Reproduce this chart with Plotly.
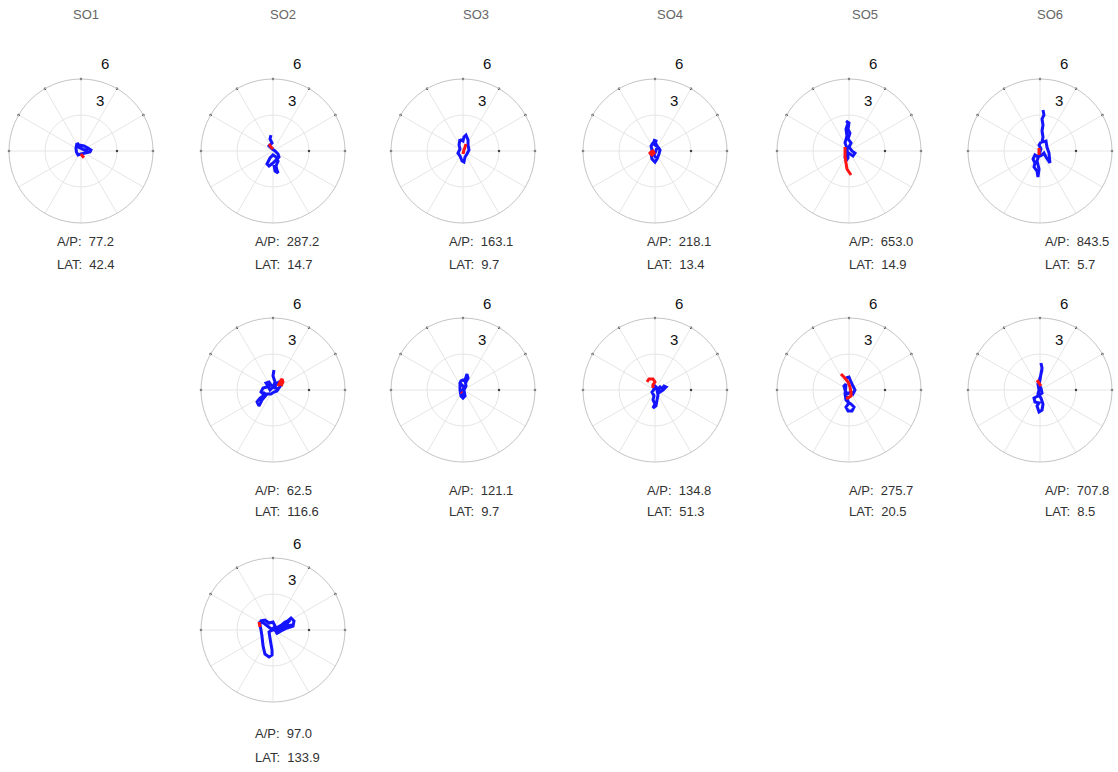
import numpy as np
import plotly.graph_objects as go

W, H = 1118, 772

# ---- data (lateral, A/P) sway trajectories in axis units ----
subjects = ["SO1", "SO2", "SO3", "SO4", "SO5", "SO6"]

traj = {
    (0, 0): dict(
        blue=[(-0.33, 0.67), (-0.42, 0.25), (-0.38, -0.08), (-0.25, -0.33), (0, -0.25), (0.33, -0.17),
              (0.75, -0.08), (0.83, 0.08), (0.58, 0.25), (0.25, 0.42), (-0.17, 0.5), (-0.33, 0.67),
              (-0.17, 0.3), (0.25, 0.1), (0.6, 0.05)],
        red=[(0, -0.25), (0.1, -0.4), (0.25, -0.55)],
        ap="77.2", lat="42.4"),
    (0, 1): dict(
        blue=[(-0.17, 1.33), (-0.25, 1.0), (-0.08, 0.67), (-0.33, 0.42), (-0.08, 0.17), (0.17, 0), (0.42, -0.25),
              (0.5, -0.5), (0.25, -0.75), (0, -1.0), (-0.33, -1.25), (-0.5, -1.08), (-0.25, -0.58), (0, -0.33),
              (0.25, -0.5), (0.42, -0.83), (0.25, -1.25), (0.33, -1.58), (0.42, -1.83), (0.17, -1.67), (0.08, -1.17)],
        red=[(-0.33, 0.58), (-0.17, 0.33), (0, 0.17)],
        ap="287.2", lat="14.7"),
    (0, 2): dict(
        blue=[(-0.25, 1.0), (-0.33, 0.5), (-0.25, 0.17), (-0.42, -0.17), (-0.25, -0.42), (-0.08, -0.83),
              (0.08, -0.92), (0.17, -0.5), (0.33, -0.25), (0.5, 0.08), (0.42, 0.5), (0.42, 0.92), (0.25, 1.33),
              (0.08, 1.17), (0, 0.83), (-0.17, 0.92), (-0.25, 1.0)],
        red=[(0, -0.25), (0.08, 0.08), (0.17, 0.33), (0.25, 0.58)],
        ap="163.1", lat="9.7"),
    (0, 3): dict(
        blue=[(-0.17, 0.92), (0.08, 0.83), (0, 0.5), (0.25, 0.33), (0.42, 0.08), (0.33, -0.25), (0.17, -0.67),
              (0, -0.92), (-0.25, -0.67), (-0.33, -0.25), (-0.25, 0.08), (-0.33, 0.42), (-0.17, 0.67), (0, 0.75),
              (0.17, 0.42), (0.08, 0), (-0.08, -0.33), (0.08, -0.58)],
        red=[(-0.5, -0.25), (-0.33, -0.08), (-0.17, 0), (-0.08, -0.17), (-0.25, -0.33), (-0.42, -0.17)],
        ap="218.1", lat="13.4"),
    (0, 4): dict(
        blue=[(-0.25, 2.5), (0, 2.33), (-0.08, 1.83), (0.08, 1.5), (-0.08, 1.0), (0.17, 0.67), (0, 0.33),
              (0.25, 0), (0.5, -0.17), (0.33, -0.42), (0.08, -0.25), (-0.17, -0.08), (-0.33, -0.5),
              (-0.25, -0.83), (-0.08, -0.58), (-0.17, 0.25), (-0.33, 0.67), (-0.17, 1.25), (-0.25, 1.83),
              (-0.08, 2.33)],
        red=[(-0.33, 0.33), (-0.33, -0.42), (-0.25, -1.0), (-0.17, -1.5), (0, -1.75), (0.17, -2.0)],
        ap="653.0", lat="14.9"),
    (0, 5): dict(
        blue=[(0.25, 3.42), (0.33, 3.0), (0.17, 2.67), (0.25, 2.17), (0.17, 1.67), (0.25, 1.17), (0.17, 0.75),
              (0.5, 0.83), (0.58, 0.33), (0.75, -0.17), (0.83, -1.0), (0.5, -0.5), (0.33, -0.17), (0.17, -0.33),
              (-0.17, -0.5), (-0.42, -0.33), (-0.58, -0.67), (-0.42, -1.0), (-0.5, -1.33), (-0.25, -1.67),
              (-0.17, -2.17), (-0.08, -1.5), (-0.25, -0.83), (-0.08, -0.33), (0.08, 0.17), (-0.08, 0.5),
              (0.08, 0.75)],
        red=[(-0.08, 0.25), (-0.08, -0.33)],
        ap="843.5", lat="5.7"),
    (1, 1): dict(
        blue=[(0.08, 1.67), (0, 1.17), (0.17, 0.67), (0, 0.25), (-0.25, 0), (-0.42, 0.33), (-0.58, 0.58),
              (-0.33, 0.67), (-0.17, 0.42), (-0.5, 0.25), (-0.83, 0.17), (-1.0, -0.17), (-0.83, -0.33),
              (-0.67, -0.17), (-0.83, -0.5), (-1.08, -0.67), (-1.33, -1.0), (-1.17, -1.33), (-0.92, -0.83),
              (-0.5, -0.33), (-0.17, -0.33), (0.08, -0.17), (0.33, -0.08), (0.5, 0.17), (0.67, 0.42),
              (0.5, 0.67), (0.25, 0.5), (0.17, 0.17), (0.42, 0.08)],
        red=[(0.42, 0.33), (0.58, 0.67), (0.75, 0.92), (0.83, 0.67), (0.67, 0.33)],
        ap="62.5", lat="116.6"),
    (1, 2): dict(
        blue=[(-0.25, 0.58), (-0.25, 0), (-0.17, -0.5), (0, -0.67), (0.17, -0.5), (0.08, 0), (0.25, 0.33),
              (0.17, 0.83), (0.33, 1.33), (0.42, 1.0), (0.25, 0.67), (0, 0.83), (-0.17, 0.75), (-0.25, 0.58),
              (-0.17, 0.5), (0.08, 0.25), (-0.08, -0.25), (0.08, -0.42)],
        red=[(-0.17, -0.17), (-0.08, -0.25)],
        ap="121.1", lat="9.7"),
    (1, 3): dict(
        blue=[(-0.17, 0.42), (0, 0.17), (-0.25, -0.17), (-0.08, -0.5), (-0.17, -0.83), (0, -1.17), (-0.17, -1.5),
              (0.08, -1.33), (0.17, -0.83), (0.25, -0.42), (0.17, 0), (0.42, 0.25), (0.58, 0.08), (0.75, 0.33),
              (0.92, 0.25), (0.67, 0), (0.42, -0.17), (0.25, 0.08), (0, 0.33), (-0.25, 0.25)],
        red=[(-0.67, 0.67), (-0.5, 0.92), (-0.17, 0.92), (0, 0.67), (-0.17, 0.42), (-0.17, 0.17)],
        ap="134.8", lat="51.3"),
    (1, 4): dict(
        blue=[(-0.25, 1.0), (0, 1.08), (0.17, 0.67), (0.33, 0.33), (0.5, 0), (0.33, -0.33), (0.17, -0.17),
              (-0.17, -0.33), (-0.33, 0), (-0.42, 0.33), (-0.25, 0.5), (-0.33, -0.33), (-0.25, -0.83), (0, -1.08),
              (-0.25, -1.42), (-0.08, -1.75), (0.25, -1.75), (0.42, -1.42), (0.17, -1.17), (-0.08, -1.0),
              (-0.17, -0.5)],
        red=[(-0.67, 1.33), (-0.42, 1.08), (-0.08, 0.67), (0.08, 0.25), (0.17, -0.17), (0.17, -0.5),
             (-0.08, -0.67), (-0.25, -0.67)],
        ap="275.7", lat="20.5"),
    (1, 5): dict(
        blue=[(0.08, 2.25), (0.17, 1.83), (0.08, 1.33), (0, 0.83), (-0.08, 0.42), (0.08, 0.17), (0.17, -0.25),
              (-0.17, -0.5), (-0.5, -0.67), (-0.42, -1.0), (-0.08, -1.08), (-0.25, -1.33), (-0.08, -1.83),
              (0.17, -1.67), (0.25, -1.17), (0.08, -0.67), (-0.17, -0.33), (-0.08, 0), (-0.17, 0.5), (0, 1.0),
              (0.17, 1.67)],
        red=[(-0.25, 0.83), (-0.08, 0.58), (0.08, 0.33)],
        ap="707.8", lat="8.5"),
    (2, 1): dict(
        blue=[(-1.08, 0.75), (-0.67, 0.83), (-0.33, 0.58), (0, 0.67), (0.17, 0.33), (-0.08, 0), (-0.33, -0.17),
              (-0.25, -0.67), (-0.17, -1.17), (-0.08, -1.67), (-0.08, -2.08), (-0.33, -2.25), (-0.67, -2.0),
              (-0.83, -1.33), (-0.92, -0.5), (-1.0, 0), (-1.08, 0.42), (-1.08, 0.75), (-0.67, 0.5), (-0.25, 0.17),
              (0, 0), (0.42, 0.25), (1.0, 0.58), (1.5, 1.0), (1.75, 0.75), (1.67, 0.33), (1.17, 0.17),
              (0.67, -0.08), (0.25, -0.33), (0.5, 0), (1.08, 0.42), (1.42, 0.83), (1.0, 0.67), (0.42, 0.17),
              (0.17, -0.17), (0.75, 0.25), (1.58, 0.42)],
        red=[(-1.17, 0.67), (-1.08, 0.25)],
        ap="97.0", lat="133.9"),
}

radial_ticks = [3, 6]
radial_max = 6
tick_dot_angles = [0, 30, 60, 90, 120, 150, 180]

# ---- layout geometry (page pixels) ----
col_cx = [81, 273, 463, 655, 849, 1040]
row_cy = [151, 390, 630]
R = 72
title_x = [86, 283, 476, 670, 865, 1050]
text_left = [55, 253, 447, 645, 847, 1043]
ap_y = [241, 490, 733]
lat_y = [264, 511, 757]

FONT = "Liberation Sans, Arial, sans-serif"
BLUE = "#1414ff"
RED = "#ff1414"


def px(x):
    return min(1.0, max(0.0, x / W))


def py(y):
    return min(1.0, max(0.0, 1 - y / H))


def to_polar(pts):
    a = np.array(pts, dtype=float)
    x, y = a[:, 0], a[:, 1]
    return np.hypot(x, y), np.degrees(np.arctan2(y, x))


fig = go.Figure()
layout = dict(width=W, height=H, margin=dict(l=0, r=0, t=0, b=0),
              paper_bgcolor="white", plot_bgcolor="white", showlegend=False)
annotations = []

for i, ((row, col), d) in enumerate(traj.items()):
    pid = "polar" if i == 0 else f"polar{i + 1}"
    cx, cy = col_cx[col], row_cy[row]
    layout[pid] = dict(
        domain=dict(x=[px(cx - R), px(cx + R)], y=[py(cy + R), py(cy - R)]),
        bgcolor="white",
        radialaxis=dict(range=[0, radial_max], tickvals=radial_ticks, showticklabels=False, ticks="",
                        showline=False, gridcolor="#e6e6e6", gridwidth=1),
        angularaxis=dict(dtick=30, showticklabels=False, ticks="", showline=True, linecolor="#c4c4c4",
                         linewidth=1, gridcolor="#e6e6e6", gridwidth=1, rotation=0,
                         direction="counterclockwise"),
    )
    # small tick dots
    fig.add_trace(go.Scatterpolar(r=[radial_max] * len(tick_dot_angles) + [radial_ticks[0]],
                                  theta=tick_dot_angles + [0], mode="markers",
                                  marker=dict(size=2.5, color="#444"), cliponaxis=False,
                                  subplot=pid, hoverinfo="skip"))
    rb, tb = to_polar(d["blue"])
    fig.add_trace(go.Scatterpolar(r=rb, theta=tb, mode="lines", line=dict(color=BLUE, width=3),
                                  subplot=pid))
    rr, tr = to_polar(d["red"])
    fig.add_trace(go.Scatterpolar(r=rr, theta=tr, mode="lines", line=dict(color=RED, width=3),
                                  subplot=pid))

    # radial labels
    for lab, dx, dy in ((str(radial_ticks[1]), 24, -87), (str(radial_ticks[0]), 19, -51)):
        annotations.append(dict(x=px(cx + dx), y=py(cy + dy), xref="paper", yref="paper",
                                text=lab, showarrow=False, xanchor="center", yanchor="middle",
                                font=dict(family=FONT, size=15, color="#111")))
    annotations.append(dict(x=px(text_left[col]), y=py(ap_y[row]), xref="paper", yref="paper",
                            text=f"A/P:\u00a0\u00a0{d['ap']}", showarrow=False, xanchor="left",
                            yanchor="middle", font=dict(family=FONT, size=13, color="#333")))
    annotations.append(dict(x=px(text_left[col]), y=py(lat_y[row]), xref="paper", yref="paper",
                            text=f"LAT:\u00a0\u00a0{d['lat']}", showarrow=False, xanchor="left",
                            yanchor="middle", font=dict(family=FONT, size=13, color="#333")))

for c, s in enumerate(subjects):
    annotations.append(dict(x=px(title_x[c]), y=py(15), xref="paper", yref="paper", text=s,
                            showarrow=False, xanchor="center", yanchor="middle",
                            font=dict(family=FONT, size=13, color="#666")))

layout["annotations"] = annotations
fig.update_layout(**layout)
fig.write_html("out.html", config={"displayModeBar": False},
               post_script="document.body.style.margin='0px';document.body.style.overflow='hidden';")
